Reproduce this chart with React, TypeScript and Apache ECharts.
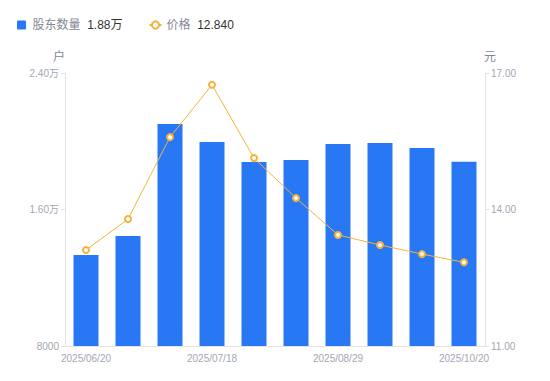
import React, { useEffect, useRef } from "react";
import * as echarts from "echarts";

const categories = [
  "2025/06/20", "2025/06/30", "2025/07/10", "2025/07/18", "2025/07/31",
  "2025/08/15", "2025/08/29", "2025/09/10", "2025/09/30", "2025/10/20",
];
const holders = [13330, 14450, 21010, 19960, 18780, 18900, 19840, 19900, 19610, 18800];
const prices = [13.11, 13.79, 15.59, 16.74, 15.13, 14.25, 13.44, 13.22, 13.02, 12.84];
const legendValues: Record<string, string> = { "股东数量": "1.88万", "价格": "12.840" };

export default function App() {
  const ref = useRef<HTMLDivElement>(null);
  useEffect(() => {
    const chart = echarts.init(ref.current!, undefined, { renderer: "svg" });
    const labelColor = "#a3a6b4";
    const lineColor = "#e3e4e8";
    chart.setOption({
      animation: false,
      textStyle: { fontFamily: "'Liberation Sans', Arial, 'Noto Sans CJK SC', sans-serif" },
      legend: {
        left: 12,
        top: 14,
        itemGap: 26,
        itemWidth: 12,
        itemHeight: 9,
        itemTextGap: 4,
        symbolKeepAspect: true,
        data: [
          { name: "股东数量", icon: "path://M1,0 H9 Q10,0 10,1 V9 Q10,10 9,10 H1 Q0,10 0,9 V1 Q0,0 1,0 Z", itemStyle: { color: "#2878f5" } },
          { name: "价格" },
        ],
        formatter: (name: string) => `{n|${name}}  {v|${legendValues[name]}}`,
        textStyle: {
          rich: {
            n: { color: "#858895", fontSize: 12 },
            v: { color: "#333333", fontSize: 12 },
          },
        },
      },
      grid: { left: 65, right: 65, top: 73, bottom: 35 },
      xAxis: {
        type: "category",
        data: categories,
        axisLine: { lineStyle: { color: lineColor } },
        axisTick: { show: false },
        axisLabel: { color: labelColor, fontSize: 10, interval: 2, margin: 7 },
      },
      yAxis: [
        {
          type: "value",
          name: "户",
          nameTextStyle: { color: "#858895", fontSize: 12, padding: [0, 12, 0, 0] },
          nameGap: 10,
          min: 8000,
          max: 24000,
          interval: 8000,
          axisLine: { show: true, lineStyle: { color: lineColor } },
          axisTick: { show: true, length: 4, lineStyle: { color: lineColor } },
          splitLine: { show: false },
          axisLabel: {
            color: labelColor,
            fontSize: 10,
            margin: 6,
            formatter: (v: number) => (v >= 10000 ? (v / 10000).toFixed(2) + "万" : String(v)),
          },
        },
        {
          type: "value",
          name: "元",
          nameTextStyle: { color: "#858895", fontSize: 12, padding: [0, 0, 0, 10] },
          nameGap: 10,
          min: 11,
          max: 17,
          interval: 3,
          axisLine: { show: true, lineStyle: { color: lineColor } },
          axisTick: { show: true, length: 4, lineStyle: { color: lineColor } },
          splitLine: { show: false },
          axisLabel: {
            color: labelColor,
            fontSize: 10,
            margin: 6,
            formatter: (v: number) => v.toFixed(2),
          },
        },
      ],
      series: [
        {
          name: "股东数量",
          type: "bar",
          data: holders,
          barWidth: 25,
          itemStyle: { color: "#2878f5" },
        },
        {
          name: "价格",
          type: "line",
          yAxisIndex: 1,
          data: prices,
          symbol: "emptyCircle",
          symbolSize: 6,
          lineStyle: { color: "#f6b23a", width: 1 },
          itemStyle: { color: "#f6b23a", borderWidth: 2 },
        },
      ],
    });
    return () => chart.dispose();
  }, []);
  return <div ref={ref} style={{ width: 550, height: 381, margin: -8 }} />;
}
